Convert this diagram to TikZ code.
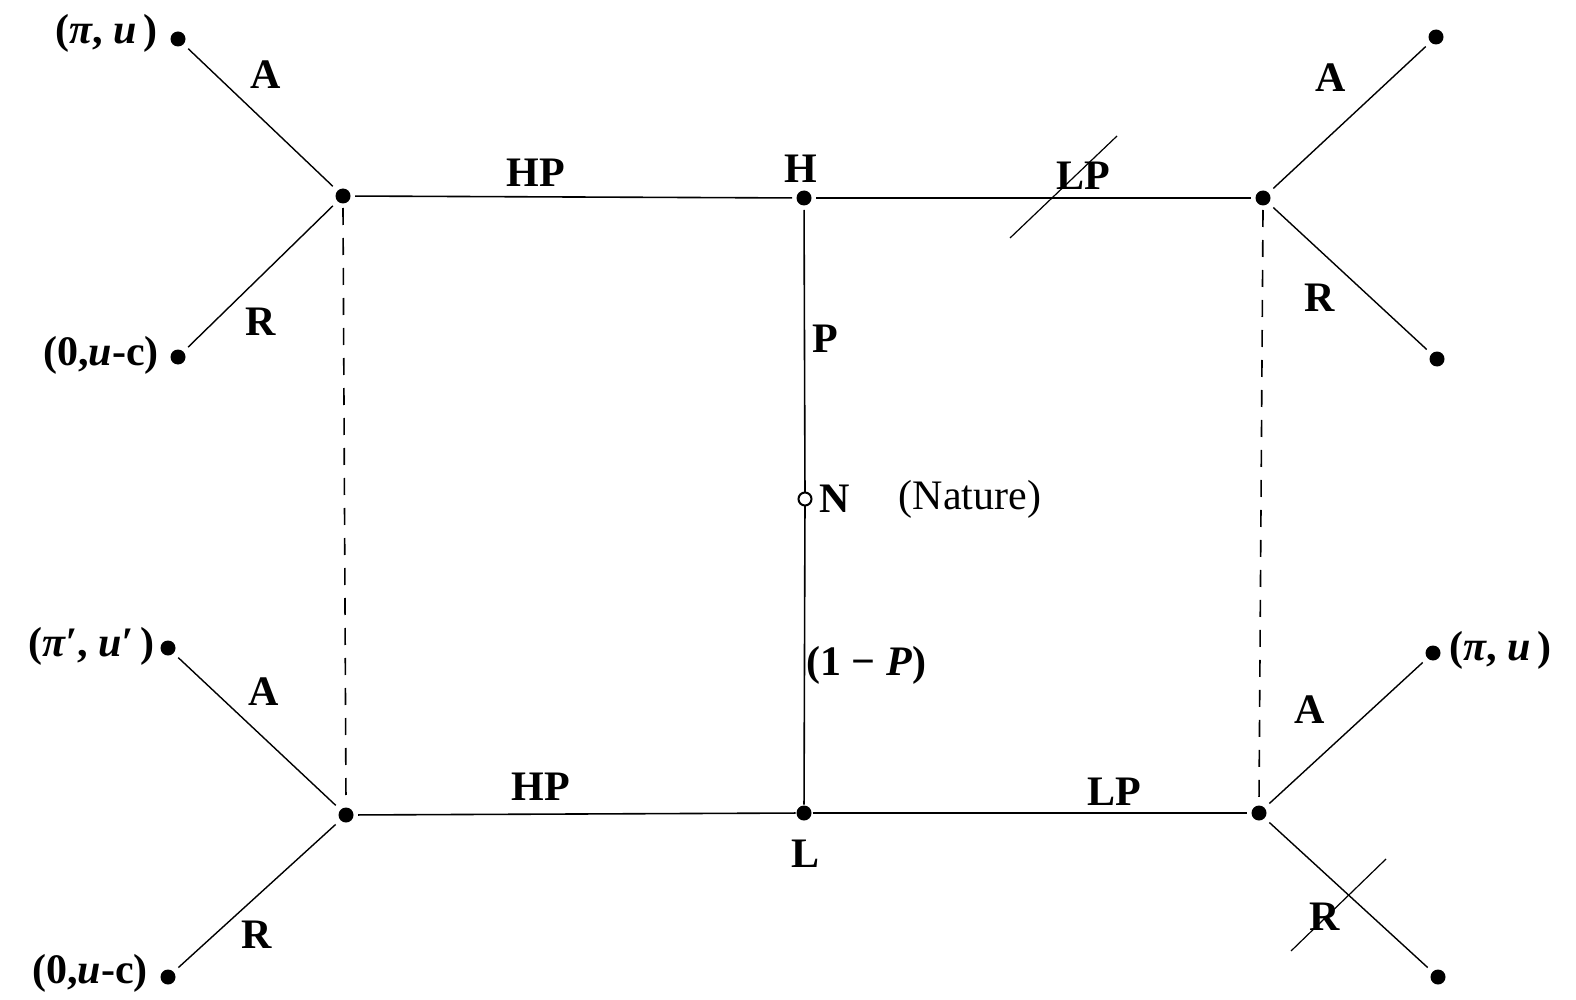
\documentclass[tikz,border=0pt]{standalone}
\usepackage{fontspec}
\setmainfont{Liberation Serif}
\begin{document}
\begin{tikzpicture}[x=1pt,y=-1pt,
  every node/.style={font=\fontsize{42}{44}\selectfont\bfseries},
  dotnode/.style={circle,fill=black,draw=none,inner sep=0pt,minimum size=15pt,outer sep=4.5pt},
  opennode/.style={circle,draw=black,fill=white,line width=2pt,inner sep=0pt,minimum size=13pt,outer sep=0pt},
  edge/.style={line width=1.6pt},
  leafedge/.style={line width=1.4pt,shorten <=2pt,shorten >=2pt},
  dashedge/.style={line width=1.6pt,dash pattern=on 17pt off 13pt},
  strike/.style={line width=1.2pt},
  lbl/.style={inner sep=0pt,anchor=center},
  nat/.style={inner sep=0pt,font=\fontsize{42}{44}\selectfont}
]
\useasboundingbox (0,0) rectangle (1576,1000);
% decision nodes
\node[dotnode] (tl) at (343,196) {};
\node[dotnode] (tr) at (1263,198) {};
\node[dotnode] (bl) at (346,815) {};
\node[dotnode] (br) at (1259,813) {};
\node[dotnode] (H) at (804,198) {};
\node[dotnode,outer sep=1pt] (L) at (804,813) {};
\node[opennode] (N) at (805,499) {};
% leaves
\node[dotnode] (la1) at (178,39) {};
\node[dotnode] (la2) at (178,357) {};
\node[dotnode] (ra1) at (1436,37) {};
\node[dotnode] (ra2) at (1437,359) {};
\node[dotnode] (lb1) at (168,648) {};
\node[dotnode] (lb2) at (168,977) {};
\node[dotnode] (rb1) at (1433,653) {};
\node[dotnode] (rb2) at (1438,977) {};
% main edges
\draw[edge] (tl) -- (H);
\draw[edge] (H) -- (tr);
\draw[edge] (bl) -- (L);
\draw[edge] (L) -- (br);
\draw[edge] (H) -- (N);
\draw[edge] (N) -- (L);
% leaf edges
\draw[leafedge] (tl) -- (la1);
\draw[leafedge] (tl) -- (la2);
\draw[leafedge] (tr) -- (ra1);
\draw[leafedge] (tr) -- (ra2);
\draw[leafedge] (bl) -- (lb1);
\draw[leafedge] (bl) -- (lb2);
\draw[leafedge] (br) -- (rb1);
\draw[leafedge] (br) -- (rb2);
% information sets
\draw[dashedge] (tl.center) ++(0,12) -- (bl.north);
\draw[dashedge] (tr.center) ++(0,12) -- (br.north);
% strike-throughs
\coordinate (s1a) at (1010,238);
\coordinate (s1b) at (1117,136);
\coordinate (s2a) at (1291,951);
\coordinate (s2b) at (1386,859);
\draw[strike] (s1a) -- (s1b);
\draw[strike] (s2a) -- (s2b);
% labels
\node[lbl] (lHPt) at (536,173) {HP};
\node[lbl] (lH) at (801,169) {H};
\node[lbl] (lLPt) at (1083,176) {LP};
\node[lbl] (lP) at (825,339) {P};
\node[lbl] (lN) at (835,499) {N};
\node[nat] (lNat) at (970,499) {(Nature)};
\node[lbl,anchor=west] (l1P) at (806,665) {(1 − \textit{P})};
\node[lbl] (lHPb) at (541,787) {HP};
\node[lbl] (lLPb) at (1114,792) {LP};
\node[lbl] (lL) at (805,854) {L};
\node[lbl] (lA1) at (266,75) {A};
\node[lbl] (lR1) at (261,322) {R};
\node[lbl] (lA2) at (1331,78) {A};
\node[lbl] (lR2) at (1320,298) {R};
\node[lbl] (lA3) at (264,692) {A};
\node[lbl] (lR3) at (257,935) {R};
\node[lbl] (lA4) at (1310,710) {A};
\node[lbl] (lR4) at (1325,917) {R};
\node[lbl,anchor=east] (pay1) at (158,33) {(\textit{π}, \textit{u}\,)};
\node[lbl,anchor=east] (pay2) at (159,355) {(0,\textit{u}-c)};
\node[lbl,anchor=east] (pay3) at (155,646) {(\textit{π′}, \textit{u′}\,)};
\node[lbl,anchor=east] (pay4) at (148,973) {(0,\textit{u}-c)};
\node[lbl,anchor=west] (pay5) at (1449,650) {(\textit{π}, \textit{u}\,)};
\end{tikzpicture}
\end{document}
